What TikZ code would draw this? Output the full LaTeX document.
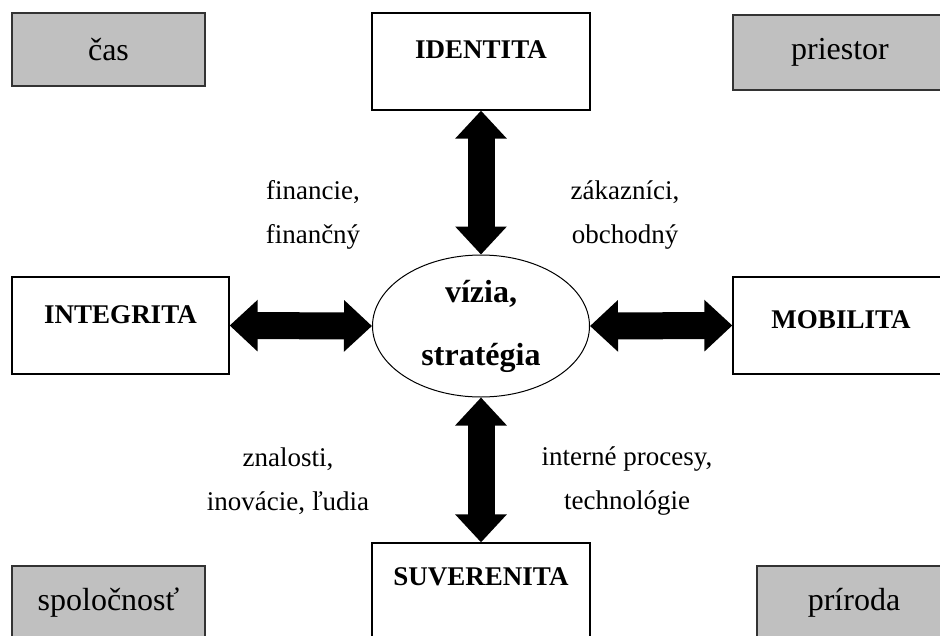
\documentclass[tikz,border=0pt]{standalone}
\usepackage{fontspec}
\setmainfont{Liberation Serif}
\usetikzlibrary{shapes.geometric,arrows.meta}
\definecolor{boxgray}{RGB}{192,192,192}
\definecolor{edgegray}{RGB}{51,51,51}

\begin{document}
\begin{tikzpicture}[
  x=1pt, y=-1pt,
  pillar/.style={draw=black,line width=1.3pt,fill=white,inner sep=0pt,
                 minimum width=218pt,minimum height=97pt,text height=17.5pt,
                 font=\fontsize{27pt}{30pt}\selectfont\bfseries},
  context/.style={draw=edgegray,line width=1.5pt,fill=boxgray,inner sep=0pt,
                  minimum width=193pt,minimum height=74pt,
                  font=\fontsize{32pt}{36pt}\selectfont},
  note/.style={align=center,font=\fontsize{27pt}{44pt}\selectfont},
  link/.style={line width=27pt,
               {Triangle[length=28pt,width=50pt]}-{Triangle[length=28pt,width=50pt]}}
]
  \useasboundingbox (0,0) rectangle (940,635);
  \clip (0,0) rectangle (940,635);

  % centre
  \node[draw,ellipse,line width=1pt,minimum width=217pt,minimum height=142pt,
        inner sep=0pt,align=center,font=\fontsize{32pt}{63pt}\selectfont\bfseries]
        (vision) at (481,326) {vízia,\\stratégia};

  % four pillars
  \node[pillar,text depth=23pt] (identita) at (481,61.5) {IDENTITA};
  \node[pillar,text depth=21pt,minimum width=217pt] (integrita) at (120.5,325.5) {INTEGRITA};
  \node[pillar,text depth=11pt,minimum width=216pt] (mobilita) at (841,325.5) {MOBILITA};
  \node[pillar,text depth=29pt] (suverenita) at (481,591.5) {SUVERENITA};

  % context corners
  \node[context,minimum height=73pt] (cas) at (108.5,49.5) {čas};
  \node[context,minimum width=214pt,minimum height=75pt] (priestor) at (840,52.5) {priestor};
  \node[context] (spolocnost) at (108.5,603) {spoločnosť};
  \node[context,minimum width=194pt] (priroda) at (854,603) {príroda};

  % perspectives
  \node[note] (financie) at (313,215) {financie,\\finančný};
  \node[note] (zakaznici) at (625,215) {zákazníci,\\obchodný};
  \node[note] (znalosti) at (288,481) {znalosti,\\inovácie, ľudia};
  \node[note] (procesy) at (627,481) {interné procesy,\\technológie};

  \draw[link] (identita.south) -- (vision.north);
  \draw[link] (vision.south) -- (suverenita.north);
  \draw[link] (integrita.east) -- (vision.west);
  \draw[link] (vision.east) -- (mobilita.west);
\end{tikzpicture}
\end{document}
